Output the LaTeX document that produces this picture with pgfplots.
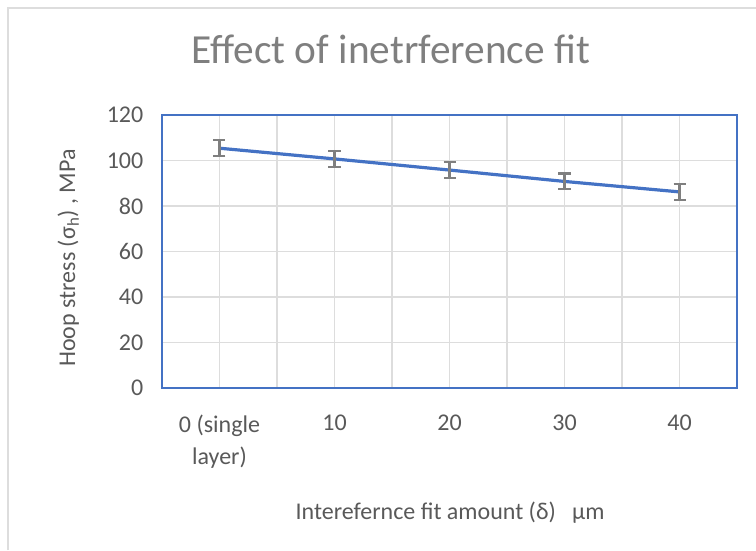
\documentclass[border=0pt]{standalone}
\usepackage{pgfplots}
\pgfplotsset{compat=1.18}
\usepackage{fontspec}
\setmainfont{Carlito}
\definecolor{xlblue}{HTML}{4472C4}
\definecolor{txtgray}{HTML}{595959}
\definecolor{titlegray}{HTML}{7F7F7F}
\definecolor{gridgray}{HTML}{DDDDDD}
\definecolor{errgray}{HTML}{7F7F7F}
\begin{document}
\begin{tikzpicture}
\begin{axis}[
    name=ax, at={(0,0)}, anchor=south west,
    scale only axis, width=431.25pt, height=204.75pt,
    xmin=-0.5, xmax=4.5, ymin=0, ymax=120,
    xtick={0,1,2,3,4},
    xticklabels={{0 (single\\layer)},10,20,30,40},
    minor xtick={-0.5,0.5,1.5,2.5,3.5,4.5},
    ytick={0,20,...,120},
    grid=both,
    major grid style={gridgray, line width=0.8pt},
    minor grid style={gridgray, line width=0.8pt},
    tick style={draw=none},
    axis line style={xlblue, line width=1.3pt},
    /pgf/number format/assume math mode=true,
    ticklabel style={font=\fontsize{18}{24}\selectfont, text=txtgray},
    x tick label style={align=center, yshift=-17pt},
    y tick label style={xshift=-10.5pt},
    title={Effect of inetrference fit},
    title style={at={(axis description cs:0.398,1.212)}, anchor=center,
        font=\fontsize{31}{36}\selectfont, text=titlegray},
    xlabel={Interefernce fit amount (δ)\ \ \ µm},
    xlabel style={at={(axis description cs:0.501,-0.458)}, anchor=center,
        font=\fontsize{18}{22}\selectfont, text=txtgray},
    ylabel={Hoop stress (σ\textsubscript{h}) , MPa},
    ylabel style={at={(axis description cs:-0.163,0.476)}, anchor=center,
        font=\fontsize{18}{22}\selectfont, text=txtgray},
]
\addplot[xlblue, line width=2.4pt, mark=none,
    error bars/.cd, y dir=both, y explicit,
    error bar style={errgray, line width=1.6pt},
    error mark options={rotate=90, mark size=4.5pt, line width=1.6pt, errgray}]
coordinates {
(0,105.4) +- (0,3.5)
(1,100.7) +- (0,3.5)
(2,95.8) +- (0,3.5)
(3,90.8) +- (0,3.5)
(4,86.2) +- (0,3.5)
};
\end{axis}
\draw[gridgray, line width=1.5pt] (-115.5pt,-121.5pt) -- (-115.5pt,285pt) -- (445.5pt,285pt);
\pgfresetboundingbox
\path (-121.5pt,-121.5pt) rectangle (445.5pt,291pt);
\end{tikzpicture}
\end{document}
